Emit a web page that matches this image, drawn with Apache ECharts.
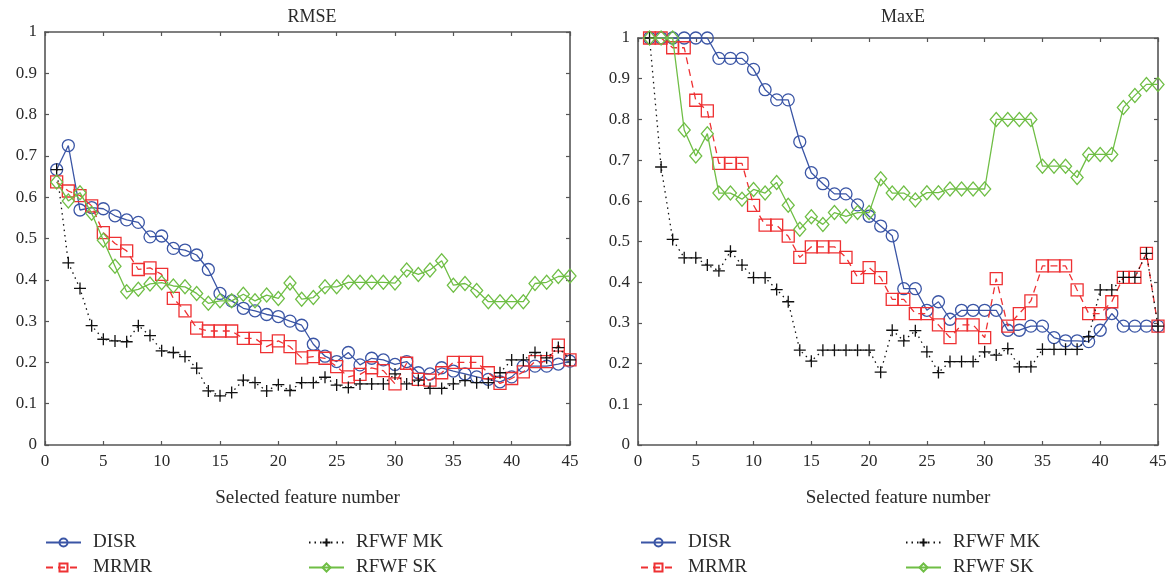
<!DOCTYPE html>
<html><head><meta charset="utf-8">
<script src="https://cdn.jsdelivr.net/npm/echarts@6/dist/echarts.min.js"></script>
<style>html,body{margin:0;padding:0;background:#fff}#c{width:1171px;height:580px}</style>
</head><body><div id="c"></div>
<script>
const featureNumbers = [1,2,3,4,5,6,7,8,9,10,11,12,13,14,15,16,17,18,19,20,21,22,23,24,25,26,27,28,29,30,31,32,33,34,35,36,37,38,39,40,41,42,43,44,45];
const seriesNames = ['DISR','MRMR','RFWF MK','RFWF SK'];
const chartTitles = ['RMSE','MaxE'];
const xAxisTitle = 'Selected feature number';

const rmseDISR = [0.667,0.725,0.569,0.575,0.572,0.555,0.545,0.539,0.504,0.506,0.476,0.472,0.46,0.425,0.367,0.349,0.331,0.325,0.316,0.311,0.3,0.29,0.244,0.215,0.202,0.224,0.194,0.21,0.206,0.195,0.202,0.175,0.172,0.187,0.179,0.172,0.165,0.159,0.153,0.165,0.191,0.191,0.191,0.196,0.203];
const rmseMRMR = [0.637,0.615,0.604,0.579,0.514,0.488,0.47,0.425,0.429,0.413,0.355,0.325,0.283,0.276,0.276,0.276,0.258,0.258,0.238,0.252,0.238,0.211,0.214,0.21,0.19,0.165,0.171,0.187,0.18,0.148,0.198,0.159,0.157,0.175,0.2,0.2,0.2,0.175,0.149,0.161,0.177,0.202,0.202,0.242,0.206];
const rmseMK = [0.667,0.441,0.379,0.289,0.256,0.252,0.25,0.289,0.265,0.228,0.224,0.214,0.186,0.131,0.119,0.127,0.157,0.151,0.131,0.146,0.132,0.151,0.151,0.164,0.145,0.139,0.148,0.148,0.148,0.172,0.148,0.157,0.137,0.137,0.148,0.156,0.151,0.151,0.175,0.206,0.206,0.224,0.211,0.236,0.206];
const rmseSK = [0.637,0.591,0.611,0.561,0.496,0.433,0.371,0.377,0.39,0.393,0.385,0.383,0.367,0.343,0.349,0.349,0.365,0.349,0.363,0.355,0.392,0.353,0.357,0.383,0.383,0.394,0.394,0.394,0.394,0.392,0.424,0.413,0.424,0.446,0.387,0.391,0.374,0.347,0.347,0.347,0.347,0.391,0.394,0.408,0.409];

const maxeDISR = [1,1,1,1,1,1,0.95,0.95,0.95,0.923,0.873,0.848,0.848,0.745,0.669,0.642,0.617,0.617,0.59,0.562,0.538,0.514,0.384,0.384,0.331,0.352,0.309,0.331,0.331,0.331,0.331,0.282,0.282,0.292,0.292,0.264,0.256,0.256,0.254,0.282,0.323,0.292,0.292,0.292,0.292];
const maxeMRMR = [1,1,0.976,0.976,0.847,0.821,0.692,0.692,0.692,0.589,0.54,0.54,0.513,0.461,0.487,0.487,0.487,0.461,0.412,0.436,0.411,0.358,0.358,0.323,0.323,0.295,0.264,0.295,0.295,0.264,0.409,0.292,0.323,0.354,0.44,0.44,0.44,0.381,0.323,0.323,0.352,0.412,0.412,0.471,0.292];
const maxeMK = [1,0.683,0.505,0.46,0.46,0.442,0.428,0.476,0.442,0.411,0.411,0.382,0.352,0.233,0.206,0.233,0.233,0.233,0.233,0.233,0.179,0.282,0.256,0.281,0.229,0.178,0.205,0.205,0.205,0.229,0.221,0.237,0.192,0.192,0.235,0.235,0.235,0.235,0.266,0.381,0.381,0.412,0.412,0.471,0.292];
const maxeSK = [1,1,1,0.774,0.71,0.765,0.619,0.619,0.604,0.628,0.619,0.645,0.589,0.53,0.561,0.542,0.571,0.562,0.571,0.571,0.654,0.619,0.619,0.602,0.62,0.62,0.629,0.629,0.629,0.629,0.8,0.8,0.8,0.8,0.685,0.685,0.685,0.657,0.714,0.714,0.714,0.829,0.859,0.886,0.886];

const FONT = 'Liberation Serif';
const AX = '#555';
const styles = {
  'DISR':    {color:'#3a55a5', symbol:'circle', size:12, type:'solid'},
  'MRMR':    {color:'#ee3133', symbol:'rect', size:12, type:[7,5]},
  'RFWF MK': {color:'#111111', symbol:'path://M-1,0L1,0M0,-1L0,1', size:12, type:[1.5,4]},
  'RFWF SK': {color:'#6fbe45', symbol:'path://M0,-1L1,0L0,1L-1,0Z', size:[12,14], type:'solid'}
};
const grids = [
  {left:45, top:32, width:525, height:413},
  {left:638, top:38, width:520, height:407}
];
const pair = vals => featureNumbers.map((f,i)=>[f, vals[i]]);
const dataSets = [
  [rmseDISR, rmseMRMR, rmseMK, rmseSK],
  [maxeDISR, maxeMRMR, maxeMK, maxeSK]
];
const yLabel = v => (Math.round(v*10)/10).toString();

const xAxes=[], yAxes=[], series=[];
grids.forEach((g,gi)=>{
  const base = {type:'value', min:0, max:45, interval:5, gridIndex:gi,
    axisLine:{show:true, onZero:false, lineStyle:{color:AX, width:1.6}},
    axisTick:{show:true, inside:true, length:4, lineStyle:{color:AX, width:1.2}},
    splitLine:{show:false}};
  xAxes.push(Object.assign({}, base, {position:'bottom',
    axisLabel:{color:'#2a2a2a', fontFamily:FONT, fontSize:17, margin:8},
    name:xAxisTitle, nameLocation:'middle', nameGap:44,
    nameTextStyle:{color:'#2a2a2a', fontFamily:FONT, fontSize:19}}));
  xAxes.push(Object.assign({}, base, {position:'top', axisLabel:{show:false}}));
  const ybase = {type:'value', min:0, max:1, interval:0.1, gridIndex:gi,
    axisLine:{show:true, onZero:false, lineStyle:{color:AX, width:1.6}},
    axisTick:{show:true, inside:true, length:4, lineStyle:{color:AX, width:1.2}},
    splitLine:{show:false}};
  yAxes.push(Object.assign({}, ybase, {position:'left',
    axisLabel:{color:'#2a2a2a', fontFamily:FONT, fontSize:17, margin:8, formatter:yLabel}}));
  yAxes.push(Object.assign({}, ybase, {position:'right', axisLabel:{show:false}}));
  seriesNames.forEach((n,si)=>{
    const s = styles[n];
    series.push({
      type:'line', name:n, xAxisIndex:gi*2, yAxisIndex:gi*2,
      data: pair(dataSets[gi][si]),
      symbol:s.symbol, symbolSize:s.size, showAllSymbol:true,
      lineStyle:{color:s.color, width:1.3, type:s.type},
      itemStyle:{color:'rgba(255,255,255,0)', borderColor:s.color, borderWidth:1.3},
      emphasis:{disabled:true}, animation:false, z: 2+si
    });
  });
});

const legendPos = [
  ['DISR', 45, 533], ['RFWF MK', 308, 533], ['MRMR', 45, 558], ['RFWF SK', 308, 558],
  ['DISR', 640, 533], ['RFWF MK', 905, 533], ['MRMR', 640, 558], ['RFWF SK', 905, 558]
];
const legends = legendPos.map(([n,x,y])=>({
  data:[n], left:x, top:y, itemWidth:35, itemHeight:10, selectedMode:false,
  padding:0, itemGap:0,
  textStyle:{fontFamily:FONT, fontSize:19, color:'#2a2a2a', padding:[0,0,0,7]}
}));

const chart = echarts.init(document.getElementById('c'), null, {renderer:'canvas'});
chart.setOption({
  animation:false,
  backgroundColor:'#fff',
  title: chartTitles.map((t,i)=>({text:t, left: i===0 ? 307 : 898, top:3, textAlign:'center',
    textStyle:{fontFamily:FONT, fontSize:18, fontWeight:'normal', color:'#2a2a2a'}})),
  grid: grids,
  xAxis: xAxes, yAxis: yAxes,
  legend: legends,
  series: series
});
</script></body></html>
